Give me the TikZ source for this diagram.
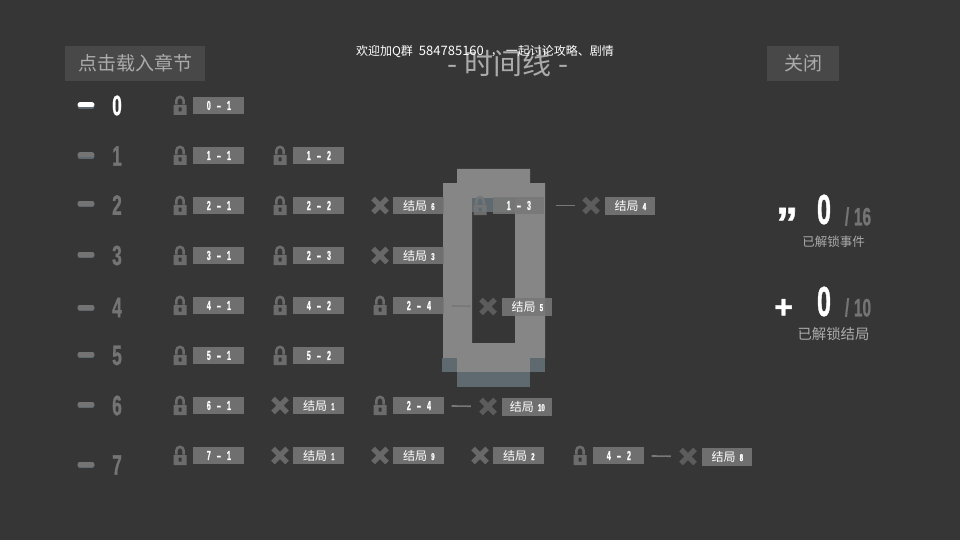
\documentclass[tikz,border=0pt]{standalone}
\usepackage{fontspec}
\usepackage{graphicx}
\setmainfont{Noto Sans CJK SC}
\newfontfamily\pixfont{Liberation Sans}[BoldFont={Liberation Sans Bold}, BoldFeatures={FakeBold=1.2}]
\newcommand{\pix}[2][.62]{\scalebox{#1}[1]{\spaceskip=.8em\pixfont\bfseries #2}}
\newcommand{\pairtxt}[2]{\pix[.55]{#1 \scalebox{2}[1]{-} #2}}
\newcommand{\fs}[1]{\fontsize{#1}{#1}\selectfont}
\usetikzlibrary{positioning}
\definecolor{bgcol}{HTML}{363636}
\definecolor{btncol}{HTML}{484848}
\definecolor{txtcol}{HTML}{ABABAB}
\definecolor{tagcol}{HTML}{787878}
\definecolor{numcol}{HTML}{747474}
\definecolor{iconcol}{HTML}{767676}
\definecolor{crosscol}{HTML}{686868}
\definecolor{dimcol}{HTML}{5C5C5C}
\definecolor{bigcol}{HTML}{868686}
\definecolor{shadecol}{HTML}{5F6A70}
\tikzset{
  btn/.style={fill=btncol, text=txtcol, inner sep=0pt, font=\fs{19}},
  tag/.style={fill=tagcol, fill opacity=.875, text opacity=1, text=white, inner sep=0pt, minimum width=51pt, minimum height=17pt, font=\fs{13}},
  endtag/.style={tag, minimum width=50pt, minimum height=18pt},
  stat/.style={text=txtcol, inner sep=0pt},
  rownum/.style={inner sep=0pt, font=\fs{28}},
  lockicon/.style={inner sep=0pt, minimum width=14pt, minimum height=20pt, path picture={
      \fill [iconcol, opacity=.85, even odd rule]
        (-6.5,-0.5) rectangle (6.5,9.5)
        (-1.5,2) rectangle (1.5,6);
      \draw [iconcol, opacity=.85, line width=2.6pt] (-3.6,-1) -- (-3.6,-5) arc (180:360:3.6) -- (3.6,-1);
    }},
  crossicon/.style={inner sep=0pt, minimum size=20pt, path picture={
      \draw [#1, line width=5.2pt] (-7,-7) -- (7,7) (-7,7) -- (7,-7);
    }},
  dashline/.style={draw=tagcol, line width=1.6pt},
  rowbar/.style={line width=5pt, line cap=round}
}
\begin{document}
\begin{tikzpicture}[x=1pt, y=-1pt]
  \fill [bgcol] (0,0) rectangle (960,540);
  \useasboundingbox (0,0) rectangle (960,540);

  % big zero behind the rows
  \fill [bigcol, even odd rule] (457,169) -- (530,169) -- (530,183) -- (545,183) -- (545,358) -- (530,358)
    -- (530,372) -- (457,372) -- (457,358) -- (443,358) -- (443,183) -- (457,183) -- cycle
    (472,198) rectangle (515,343);
  \fill [shadecol] (472,198) rectangle (515,212);
  \fill [shadecol] (442,358) rectangle (457,372);
  \fill [shadecol] (530,358) rectangle (545,372);
  \fill [shadecol] (457,372) rectangle (530,387);

  \node [btn, minimum width=140pt, minimum height=35pt] (loadbtn) at (135,63.5) {点击载入章节};
  \node [btn, minimum width=72pt, minimum height=35pt] (closebtn) at (803,63.5) {关闭};
  \node [text=txtcol, inner sep=0pt, font=\fs{29}] (title) at (508,63) {- 时间线 -};
  \node [text=white, inner sep=0pt, font=\fs{12}] (notice) at (485,51.5) {欢迎加Q群\hspace{6pt}{\fs{13}584785160}\hspace{7pt}，\hspace{3pt}一起讨论攻略、剧情};

  % row numbers
  \foreach \r/\by/\ny/\col in {0/105/105.5/white, 1/155/156/numcol, 2/203/205/numcol, 3/254/255.5/numcol,
      4/307/307.5/numcol, 5/354/355.5/numcol, 6/404/405.5/numcol, 7/464/465/numcol} {
    \draw [rowbar, shadecol] (80,\by+1.5) -- (92,\by+1.5);
    \draw [rowbar, \col] (80,\by) -- (92,\by);
    \node [rownum, text=\col] (num\r) at (117,\ny) {\pix{\r}};
  }

  % lock + tag
  \foreach \nm/\px/\py/\pa/\pb in {a/180/105.5/0/1, b/180/155.5/1/1, c/280/155.5/1/2, d/180/205.5/2/1, e/280/205.5/2/2,
      f/480/205.5/1/3, g/180/255.5/3/1, h/280/255.5/2/3, i/180/305.5/4/1, j/280/305.5/4/2, k/380/305.5/2/4,
      l/180/355.5/5/1, m/280/355.5/5/2, n/180/405.5/6/1, o/380/405.5/2/4, p/180/455.5/7/1, q/580/455.5/4/2} {
    \node [lockicon] (lock\nm) at (\px,\py) {};
    \node [tag, right=6pt of lock\nm] (tag\nm) {\pairtxt{\pa}{\pb}};
  }

  % cross + ending tag
  \foreach \nm/\px/\py/\txt in {a/380/205.5/6, b/380/255.5/3, c/280/405.5/1, d/280/455.5/1, e/380/455.5/9, f/480/455.5/2} {
    \node [crossicon=crosscol] (cross\nm) at (\px,\py) {};
    \node [tag, right=3pt of cross\nm, font=\fs{12}] (end\nm) {结局\,\,\pix{\fs{10}\txt}};
  }

  % endings reached over a connector
  \foreach \nm/\px/\py/\txt in {g/591/205.5/4, h/488/306.5/5, i/488/406.5/10, j/688/456.5/8} {
    \node [crossicon=dimcol] (cross\nm) at (\px,\py) {};
    \node [endtag, right=4pt of cross\nm, font=\fs{12}] (end\nm) {结局\,\,\pix{\fs{10}\txt}};
  }
  \draw [dashline, shorten <=11pt, shorten >=6pt] (tagf) -- (crossg);
  \draw [dashline, shorten <=7pt, shorten >=7pt] (tagk) -- (crossh);
  \draw [dashline, shorten <=7pt, shorten >=7pt] (tago) -- (crossi);
  \draw [dashline, shorten <=7pt, shorten >=7pt] (tagq) -- (crossj);

  % counters
  \node [inner sep=0pt, text=white, font=\fs{44}] (quote) at (787,223) {\pixfont\bfseries ”};
  \node [inner sep=0pt, text=white, font=\fs{42}] (eventnum) at (824,209.5) {\pix[.6]{0}};
  \node [inner sep=0pt, text=numcol, font=\fs{25}] (eventall) at (858,216.5) {\pix[.62]{\spaceskip=.3em / 16}};
  \node [stat, font=\fs{12.5}] (eventtxt) at (833.5,241.5) {已解锁事件};
  \node [inner sep=0pt, text=white, font=\fs{32}] (plus) at (783.5,308.5) {\pixfont\bfseries +};
  \node [inner sep=0pt, text=white, font=\fs{42}] (endnum) at (824,301.5) {\pix[.6]{0}};
  \node [inner sep=0pt, text=numcol, font=\fs{25}] (endall) at (858,307.5) {\pix[.62]{\spaceskip=.3em / 10}};
  \node [stat, font=\fs{14.4}] (endtxt) at (833.5,334) {已解锁结局};
\end{tikzpicture}
\end{document}
